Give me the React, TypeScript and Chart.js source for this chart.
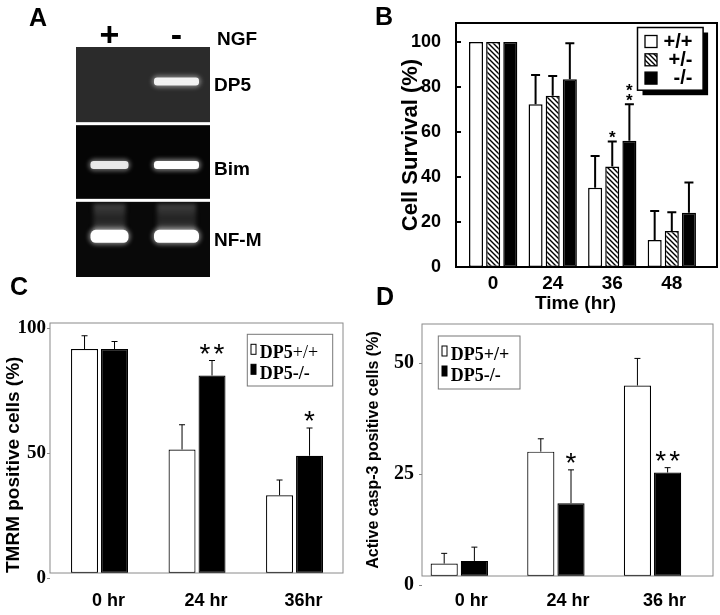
import React, { useEffect, useRef } from 'react';
import { Chart, registerables } from 'chart.js';

Chart.register(...registerables);

const SANS = 'Arial, "Liberation Sans", Helvetica, sans-serif';
const SERIF = '"Times New Roman", "Liberation Serif", Times, serif';
Chart.defaults.color = '#000';
Chart.defaults.font.family = SANS;

// ---------- Panel A : RT-PCR gel ----------
const gelLanes = ['+', '-'];
const gelLaneTitle = 'NGF';
const gelGenes = ['DP5', 'Bim', 'NF-M'];
const dp5Band = [0, 0.9];
const bimBand = [0.85, 1];
const nfmBand = [1, 1];

// ---------- Panel B : cell survival ----------
const survTimes = ['0', '24', '36', '48'];
const survTimeTitle = 'Time (hr)';
const survGenotypes = ['+/+', '+/-', '-/-'];
const survWT = [100, 72.3, 35.2, 12];
const survWTErr = [0, 13, 14.1, 12.9];
const survHet = [100, 76.1, 44.6, 16];
const survHetErr = [0, 8.8, 11.1, 8.3];
const survKO = [100, 83.4, 56.1, 24.1];
const survKOErr = [0, 16, 16.2, 13.4];
const survHetSig = ['', '', '*', ''];
const survKOSig = ['', '', '**', ''];
const survTicks = [0, 20, 40, 60, 80, 100];

// ---------- Panel C : TMRM ----------
const tmrmTimes = ['0 hr', '24 hr', '36hr'];
const tmrmSeries = ['DP5+/+', 'DP5-/-'];
const tmrmWT = [91.6, 51.4, 33.1];
const tmrmWTErr = [5.3, 9.9, 6.1];
const tmrmKO = [91.6, 81.0, 48.9];
const tmrmKOErr = [3.0, 6.0, 11.1];
const tmrmKOSig = ['', '**', '*'];
const tmrmTicks = [0, 50, 100];

// ---------- Panel D : active caspase-3 ----------
const caspTimes = ['0 hr', '24 hr', '36 hr'];
const caspSeries = ['DP5+/+', 'DP5-/-'];
const caspWT = [4.9, 30.1, 45.0];
const caspWTErr = [2.3, 2.9, 6.1];
const caspKO = [5.5, 18.5, 25.4];
const caspKOErr = [3.1, 7.5, 1.1];
const caspKOSig = ['', '*', '**'];
const caspTicks = [0, 25, 50];

// ---------------------------------------------------------------
function hatchPattern(): any {
  const c = document.createElement('canvas');
  const s = 5;
  c.width = s;
  c.height = s;
  const g = c.getContext('2d')!;
  g.fillStyle = '#fff';
  g.fillRect(0, 0, s, s);
  g.strokeStyle = '#000';
  g.lineWidth = 1.4;
  g.beginPath();
  g.moveTo(-1, -1);
  g.lineTo(s + 1, s + 1);
  g.moveTo(-1, s - 1);
  g.lineTo(1, s + 1);
  g.moveTo(s - 1, -1);
  g.lineTo(s + 1, 1);
  g.stroke();
  return g.createPattern(c, 'repeat') || '#888';
}

type DecorOpts = {
  boxColor: string;
  boxWidth: number;
  inTick?: number;
  errors: number[][];
  errLine: number;
  errCap: number;
  sig: string[][];
  sigSize: number;
  sigWeight: string;
  sigLayout: 'v' | 'h';
  sigGap: number;
  sigLift: number;
  legend: (ctx: CanvasRenderingContext2D, a: any, chart: any) => void;
};

function decor(o: DecorOpts) {
  return {
    id: 'decor',
    afterDatasetsDraw(chart: any) {
      const { ctx, chartArea: a } = chart;
      const y = chart.scales.y;
      ctx.save();
      chart.data.datasets.forEach((ds: any, d: number) => {
        const meta = chart.getDatasetMeta(d);
        const errs = o.errors[d] || [];
        const sigs = o.sig[d] || [];
        meta.data.forEach((el: any, i: number) => {
          const v = ds.data[i].y;
          const e = errs[i] || 0;
          const top = y.getPixelForValue(v + e);
          if (e > 0) {
            ctx.strokeStyle = '#000';
            ctx.lineWidth = o.errLine;
            ctx.beginPath();
            ctx.moveTo(el.x, el.y);
            ctx.lineTo(el.x, top);
            ctx.moveTo(el.x - o.errCap / 2, top);
            ctx.lineTo(el.x + o.errCap / 2, top);
            ctx.stroke();
          }
          const s = sigs[i];
          if (s) {
            ctx.fillStyle = '#000';
            ctx.font = `${o.sigWeight} ${o.sigSize}px ${SANS}`;
            ctx.textAlign = 'center';
            ctx.textBaseline = 'alphabetic';
            const n = s.length;
            for (let k = 0; k < n; k++) {
              let cx = el.x;
              let cy = top - o.sigLift;
              if (o.sigLayout === 'v') cy -= k * o.sigGap;
              else cx += (k - (n - 1) / 2) * o.sigGap;
              ctx.fillText('*', cx, cy + 0.575 * o.sigSize);
            }
          }
        });
      });
      ctx.strokeStyle = o.boxColor;
      ctx.lineWidth = o.boxWidth;
      ctx.strokeRect(a.left, a.top, a.right - a.left, a.bottom - a.top);
      if (o.inTick) {
        ctx.beginPath();
        y.ticks.forEach((t: any) => {
          if (t.value > y.min && t.value < y.max) {
            const p = y.getPixelForValue(t.value);
            ctx.moveTo(a.left, p);
            ctx.lineTo(a.left + o.inTick!, p);
          }
        });
        ctx.stroke();
      }
      o.legend(ctx, a, chart);
      ctx.restore();
    },
  };
}

function legendB(ctx: CanvasRenderingContext2D, a: any, chart: any) {
  const x0 = a.right - 79.5;
  const y0 = a.top + 4.5;
  const w = 65.6;
  const h = 62.7;
  ctx.fillStyle = '#000';
  ctx.fillRect(x0 + 5, y0 + 5, w, h);
  ctx.fillStyle = '#fff';
  ctx.fillRect(x0, y0, w, h);
  ctx.lineWidth = 1.5;
  ctx.strokeStyle = '#000';
  ctx.strokeRect(x0, y0, w, h);
  chart.data.datasets.forEach((ds: any, k: number) => {
    const sy = y0 + 8 + k * 18.3;
    ctx.fillStyle = ds.backgroundColor;
    ctx.fillRect(x0 + 7.5, sy, 12, 12);
    ctx.lineWidth = 1.3;
    ctx.strokeStyle = '#000';
    ctx.strokeRect(x0 + 7.5, sy, 12, 12);
    ctx.fillStyle = '#000';
    ctx.font = `bold 20px ${SANS}`;
    ctx.textAlign = 'right';
    ctx.textBaseline = 'middle';
    ctx.fillText(ds.label, x0 + 55, sy + 6.5);
  });
}

// x tick labels and title of panel B, placed under the chart area along the x scale
const survXAxisText = {
  id: 'survXAxisText',
  afterDraw(chart: any) {
    const { ctx, chartArea: a } = chart;
    const x = chart.scales.x;
    ctx.save();
    ctx.fillStyle = '#000';
    ctx.textAlign = 'center';
    ctx.textBaseline = 'middle';
    ctx.font = `bold 19px ${SANS}`;
    survTimes.forEach((t, i) => ctx.fillText(t, x.getPixelForValue(i), a.bottom + 16.5));
    ctx.fillText(survTimeTitle, (a.left + a.right) / 2 - 11, a.bottom + 36.5);
    ctx.restore();
  },
};

function legendDP5(anchor: 'left' | 'right', dx: number, dy: number, w: number, h: number, suffixBold: boolean[]) {
  return (ctx: CanvasRenderingContext2D, a: any, chart: any) => {
    const x0 = anchor === 'left' ? a.left + dx : a.right - dx;
    const y0 = a.top + dy;
    ctx.fillStyle = '#fff';
    ctx.fillRect(x0, y0, w, h);
    ctx.lineWidth = 1;
    ctx.strokeStyle = '#777';
    ctx.strokeRect(x0, y0, w, h);
    chart.data.datasets.forEach((ds: any, k: number) => {
      const my = y0 + 10 + k * 20;
      ctx.fillStyle = ds.backgroundColor;
      ctx.fillRect(x0 + 3.7, my, 5, 10);
      ctx.lineWidth = 1;
      ctx.strokeStyle = '#000';
      ctx.strokeRect(x0 + 3.7, my, 5, 10);
      const base = y0 + 23.5 + k * 21;
      const prefix = ds.label.slice(0, 3);
      const suffix = ds.label.slice(3);
      ctx.fillStyle = '#000';
      ctx.textAlign = 'left';
      ctx.textBaseline = 'alphabetic';
      ctx.font = `bold 18px ${SERIF}`;
      ctx.fillText(prefix, x0 + 12.5, base);
      const pw = ctx.measureText(prefix).width;
      ctx.font = `${suffixBold[k] ? 'bold ' : ''}18px ${SERIF}`;
      ctx.fillText(suffix, x0 + 12.5 + pw, base);
    });
  };
}

const gelRowBg = ['#2b2b2b', '#050505', '#090909'];
const gelBandPos = [0.45, 0.54, 0.47];
const gelBandH = [8, 8, 13];
const gelBandW = [38, 45];

const gelPlugin = {
  id: 'gel',
  beforeDatasetsDraw(chart: any) {
    const { ctx, chartArea: a } = chart;
    const y = chart.scales.y;
    ctx.save();
    gelGenes.forEach((_g, i) => {
      const t = y.getPixelForValue(i) + (i > 0 ? 1.5 : 0);
      const b = y.getPixelForValue(i + 1) - (i < gelGenes.length - 1 ? 1.5 : 0);
      ctx.fillStyle = gelRowBg[i];
      ctx.fillRect(a.left, t, a.right - a.left, b - t);
    });
    ctx.restore();
  },
  afterDatasetsDraw(chart: any) {
    const { ctx, chartArea: a } = chart;
    const x = chart.scales.x;
    const y = chart.scales.y;
    const meta = chart.getDatasetMeta(0);
    const pts = chart.data.datasets[0].data;
    const rowH = Math.abs(y.getPixelForValue(1) - y.getPixelForValue(0));
    ctx.save();
    meta.data.forEach((el: any, k: number) => {
      const d = pts[k];
      if (!d.v) return;
      const cy = el.y + (gelBandPos[d.row] - 0.5) * rowH;
      const w = gelBandW[d.lane];
      const h = gelBandH[d.row];
      if (d.row === 2) {
        const top = y.getPixelForValue(d.row) + 1.5;
        const g = ctx.createLinearGradient(0, top, 0, cy);
        g.addColorStop(0, 'rgba(150,150,150,0.45)');
        g.addColorStop(0.5, 'rgba(110,110,110,0.25)');
        g.addColorStop(1, 'rgba(170,170,170,0.5)');
        ctx.fillStyle = g;
        ctx.filter = 'blur(2px)';
        ctx.fillRect(el.x - w / 2 + 3, top + 2, w - 6, cy - top - 2);
      }
      ctx.filter = 'blur(2px)';
      ctx.fillStyle = `rgba(255,255,255,${0.45 * d.v})`;
      ctx.beginPath();
      ctx.roundRect(el.x - w / 2 - 2, cy - h / 2 - 2, w + 4, h + 4, (h + 4) / 2);
      ctx.fill();
      ctx.filter = 'blur(0.7px)';
      ctx.fillStyle = `rgba(255,255,255,${d.v})`;
      ctx.beginPath();
      ctx.roundRect(el.x - w / 2, cy - h / 2, w, h, h / 2.5);
      ctx.fill();
      ctx.filter = 'none';
    });
    ctx.restore();
    ctx.save();
    ctx.fillStyle = '#000';
    ctx.textBaseline = 'middle';
    ctx.textAlign = 'center';
    ctx.font = `bold 34px ${SANS}`;
    gelLanes.forEach((l, j) => ctx.fillText(l, x.getPixelForValue(j), 37));
    ctx.textAlign = 'left';
    ctx.font = `bold 19px ${SANS}`;
    ctx.fillText(gelLaneTitle, a.right + 7, 40);
    gelGenes.forEach((g, i) => {
      const cy = y.getPixelForValue(i) + gelBandPos[i] * rowH;
      ctx.fillText(g, a.right + 4, cy + 4.5);
    });
    ctx.restore();
  },
};

// ---------------------------------------------------------------
function buildA(): any {
  const bands = [dp5Band, bimBand, nfmBand];
  return {
    type: 'scatter',
    data: {
      datasets: [
        {
          data: gelGenes.flatMap((_g, i) =>
            gelLanes.map((_l, j) => ({ x: j, y: i + 0.5, v: bands[i][j], row: i, lane: j }))
          ),
          pointRadius: 0,
        },
      ],
    },
    options: {
      responsive: false,
      animation: false,
      events: [],
      layout: { padding: { left: 76, right: 150, top: 47, bottom: 23 } },
      plugins: { legend: { display: false }, tooltip: { enabled: false } },
      scales: {
        x: { type: 'linear', min: -0.5, max: 1.5, display: false },
        y: { type: 'linear', min: 0, max: 3, reverse: true, display: false },
      },
    },
    plugins: [gelPlugin],
  };
}

function buildB(): any {
  const hatch = hatchPattern();
  const mk = (vals: number[]) => vals.map((v, i) => ({ x: i, y: v }));
  const common = { borderColor: '#000', borderWidth: 1.5, borderSkipped: false, base: 0 };
  return {
    type: 'bar',
    data: {
      datasets: [
        { label: survGenotypes[0], data: mk(survWT), backgroundColor: '#fff', ...common },
        { label: survGenotypes[1], data: mk(survHet), backgroundColor: hatch, ...common },
        { label: survGenotypes[2], data: mk(survKO), backgroundColor: '#000', ...common },
      ],
    },
    options: {
      responsive: false,
      animation: false,
      events: [],
      layout: { padding: { left: 34, top: 23, right: 3, bottom: 0 } },
      datasets: { bar: { categoryPercentage: 0.863, barPercentage: 0.82 } },
      plugins: { legend: { display: false }, tooltip: { enabled: false } },
      scales: {
        x: {
          type: 'linear',
          offset: false,
          min: -0.624,
          max: 3.759,
          grid: { display: false },
          border: { display: false },
          afterBuildTicks: (s: any) => {
            s.ticks = survTimes.map((_t, i) => ({ value: i }));
          },
          afterFit: (s: any) => {
            s.height = 52;
          },
          ticks: { display: false },
          title: { display: false },
        },
        y: {
          type: 'linear',
          beginAtZero: false,
          min: 0,
          max: 108.4,
          grid: { display: false },
          border: { display: false },
          afterBuildTicks: (s: any) => {
            s.ticks = survTicks.map((v) => ({ value: v }));
          },
          afterFit: (s: any) => {
            s.width = 62;
          },
          ticks: { font: { family: SANS, weight: 'bold', size: 18 }, color: '#000', padding: 7 },
          title: {
            display: true,
            text: 'Cell Survival (%)',
            font: { family: SANS, weight: 'bold', size: 22 },
            color: '#000',
            padding: { top: 4, bottom: 4 },
          },
        },
      },
    },
    plugins: [
      decor({
        boxColor: '#000',
        boxWidth: 2,
        inTick: 5,
        errors: [survWTErr, survHetErr, survKOErr],
        errLine: 2,
        errCap: 9,
        sig: [[], survHetSig, survKOSig],
        sigSize: 17,
        sigWeight: 'bold',
        sigLayout: 'v',
        sigGap: 10,
        sigLift: 8,
        legend: legendB,
      }),
      survXAxisText,
    ],
  };
}

function buildDP5(p: {
  times: string[];
  series: string[];
  wt: number[];
  wtErr: number[];
  ko: number[];
  koErr: number[];
  koSig: string[];
  ticks: number[];
  yMin: number;
  yMax: number;
  xMin: number;
  xMax: number;
  catPct: number;
  yWidth: number;
  xHeight: number;
  padding: any;
  tickFontSize: number;
  tickPad: number;
  xFontSize: number;
  xPad: number;
  xLabelOffset: number;
  title: string;
  titleSize: number;
  titleAlign: string;
  titlePadTop: number;
  legend: any;
}): any {
  const mk = (vals: number[]) => vals.map((v, i) => ({ x: i, y: v }));
  const common = { borderColor: '#000', borderWidth: 1.2, borderSkipped: false, base: p.yMin };
  return {
    type: 'bar',
    data: {
      datasets: [
        { label: p.series[0], data: mk(p.wt), backgroundColor: '#fff', ...common },
        { label: p.series[1], data: mk(p.ko), backgroundColor: '#000', ...common },
      ],
    },
    options: {
      responsive: false,
      animation: false,
      events: [],
      layout: { padding: p.padding },
      datasets: { bar: { categoryPercentage: p.catPct, barPercentage: 0.9 } },
      plugins: { legend: { display: false }, tooltip: { enabled: false } },
      scales: {
        x: {
          type: 'linear',
          offset: false,
          min: p.xMin,
          max: p.xMax,
          grid: { display: false },
          border: { display: false },
          afterBuildTicks: (s: any) => {
            s.ticks = p.times.map((_t, i) => ({ value: i }));
          },
          afterFit: (s: any) => {
            s.height = p.xHeight;
          },
          ticks: {
            callback: (v: any) => p.times[v] ?? '',
            font: { family: SANS, weight: 'bold', size: p.xFontSize },
            color: '#000',
            padding: p.xPad,
            labelOffset: p.xLabelOffset,
            maxRotation: 0,
            autoSkip: false,
          },
        },
        y: {
          type: 'linear',
          beginAtZero: false,
          min: p.yMin,
          max: p.yMax,
          grid: { display: true, drawOnChartArea: false, drawTicks: true, tickLength: 3, color: '#888' },
          border: { display: false },
          afterBuildTicks: (s: any) => {
            s.ticks = p.ticks.map((v) => ({ value: v }));
          },
          afterFit: (s: any) => {
            s.width = p.yWidth;
          },
          ticks: { font: { family: SERIF, weight: 'bold', size: p.tickFontSize }, color: '#000', padding: p.tickPad },
          title: {
            display: true,
            text: p.title,
            align: p.titleAlign,
            font: { family: SANS, weight: 'bold', size: p.titleSize },
            color: '#000',
            padding: { top: p.titlePadTop, bottom: 0 },
          },
        },
      },
    },
    plugins: [
      decor({
        boxColor: '#8a8a8a',
        boxWidth: 1,
        errors: [p.wtErr, p.koErr],
        errLine: 1,
        errCap: 6,
        sig: [[], p.koSig],
        sigSize: 28,
        sigWeight: 'normal',
        sigLayout: 'h',
        sigGap: 14,
        sigLift: 14,
        legend: p.legend,
      }),
    ],
  };
}

function buildC(): any {
  return buildDP5({
    times: tmrmTimes,
    series: tmrmSeries,
    wt: tmrmWT,
    wtErr: tmrmWTErr,
    ko: tmrmKO,
    koErr: tmrmKOErr,
    koSig: tmrmKOSig,
    ticks: tmrmTicks,
    yMin: 2,
    yMax: 102,
    xMin: -0.508,
    xMax: 2.497,
    catPct: 0.615,
    yWidth: 50,
    xHeight: 42,
    padding: { left: 0, top: 23, right: 17, bottom: 0 },
    tickFontSize: 19,
    tickPad: 1,
    xFontSize: 18,
    xPad: 9,
    xLabelOffset: 9,
    title: 'TMRM positive cells (%)',
    titleSize: 19,
    titleAlign: 'start',
    titlePadTop: 2,
    legend: legendDP5('right', 95.7, 11.3, 85.4, 51.7, [false, true]),
  });
}

function buildD(): any {
  return buildDP5({
    times: caspTimes,
    series: caspSeries,
    wt: caspWT,
    wtErr: caspWTErr,
    ko: caspKO,
    koErr: caspKOErr,
    koSig: caspKOSig,
    ticks: caspTicks,
    yMin: 2.1,
    yMax: 58.85,
    xMin: -0.386,
    xMax: 2.626,
    catPct: 0.625,
    yWidth: 62,
    xHeight: 39,
    padding: { left: 0, top: 24, right: 7, bottom: 0 },
    tickFontSize: 20,
    tickPad: 5,
    xFontSize: 18,
    xPad: 6,
    xLabelOffset: 12,
    title: 'Active casp-3 positive cells (%)',
    titleSize: 16,
    titleAlign: 'center',
    titlePadTop: 4,
    legend: legendDP5('left', 16.3, 12, 81.7, 53, [true, true]),
  });
}

function ChartBox(props: { left: number; top: number; width: number; height: number; build: () => any }) {
  const ref = useRef<HTMLCanvasElement>(null);
  useEffect(() => {
    const c = ref.current!;
    const chart = new Chart(c, props.build());
    return () => chart.destroy();
  }, []);
  return (
    <canvas
      ref={ref}
      width={props.width}
      height={props.height}
      style={{ position: 'absolute', left: props.left, top: props.top, width: props.width, height: props.height }}
    />
  );
}

const letterStyle = (left: number, top: number): React.CSSProperties => ({
  position: 'absolute',
  left,
  top,
  font: `bold 25px ${SANS}`,
  lineHeight: '25px',
  color: '#000',
  zIndex: 2,
});

export default function App() {
  return (
    <div style={{ position: 'fixed', left: 0, top: 0, width: 720, height: 615, background: '#fff', overflow: 'hidden' }}>
      <ChartBox left={0} top={0} width={360} height={300} build={buildA} />
      <ChartBox left={360} top={0} width={360} height={319} build={buildB} />
      <ChartBox left={0} top={300} width={360} height={315} build={buildC} />
      <ChartBox left={360} top={300} width={360} height={315} build={buildD} />
      <div style={letterStyle(29, 5)}>A</div>
      <div style={letterStyle(375, 4)}>B</div>
      <div style={letterStyle(10, 274)}>C</div>
      <div style={letterStyle(376, 284)}>D</div>
    </div>
  );
}
